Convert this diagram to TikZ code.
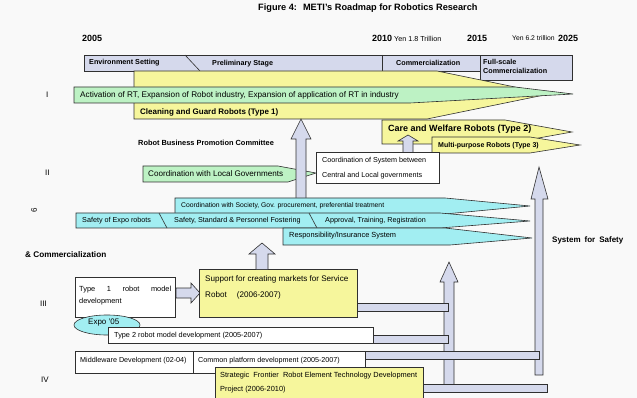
\documentclass[tikz,border=0pt]{standalone}
\usepackage{fontspec}
\setmainfont{Liberation Sans}
\definecolor{yel}{HTML}{F6F69C}
\definecolor{grn}{HTML}{BDF2C4}
\definecolor{cyn}{HTML}{A2EEF2}
\definecolor{lav}{HTML}{D5D9EC}
\definecolor{bgc}{HTML}{F9F9F9}
\definecolor{edge}{HTML}{303030}
\begin{document}
\begin{tikzpicture}[x=1pt,y=-1pt,
  txt/.style={anchor=west, inner sep=0pt, text=black, font=\fontsize{#1}{#1}\selectfont},
  btxt/.style={anchor=west, inner sep=0pt, text=black, font=\fontsize{#1}{#1}\selectfont\bfseries},
  sh/.style={draw=edge, line width=0.6pt, line join=miter}]
\useasboundingbox (0,0) rectangle (637,398);
\fill[bgc] (0,0) rectangle (637,398);

% title and years
\node[btxt=9.2] (title) at (258,8) {Figure 4:\hspace{6pt}METI's Roadmap for Robotics Research};
\node[btxt=9] (y2005) at (82,38) {2005};
\node[btxt=9] (y2010) at (372,38) {2010};
\node[txt=7.2] (yen18) at (394,38.5) {Yen 1.8 Trillion};
\node[btxt=9] (y2015) at (467,38) {2015};
\node[txt=6.8] (yen62) at (512,38.5) {Yen 6.2 trillion};
\node[btxt=9] (y2025) at (558,38) {2025};

% stage bar
\draw[sh, fill=lav] (84,55) rectangle (480,71);
\draw[sh] (185,55) -- (200,71);
\draw[sh] (382,55) -- (382,71);
\draw[sh, fill=lav] (480,55) rectangle (572,80);
\node[btxt=7.2] (env) at (89,63) {Environment Setting};
\node[btxt=7.2] (pre) at (212,64) {Preliminary Stage};
\node[btxt=7.2] (com) at (396,63) {Commercialization};
\node[btxt=7.2, align=left] (full) at (483,66.5) {Full-scale\\[2pt]Commercialization};

% Type 1 yellow arrow and green activation arrow
\draw[sh, fill=yel] (134,71) -- (437,71) -- (549,94) -- (427,119) -- (134,119) -- cycle;
\draw[sh, fill=grn] (74,87) -- (515,87) -- (573,94) -- (410,103) -- (74,103) -- cycle;
\node[txt=8.2] (act) at (80,95) {Activation of RT, Expansion of Robot industry, Expansion of application of RT in industry};
\node[btxt=8] (clean) at (140,112) {Cleaning and Guard Robots (Type 1)};

% row labels
\node[txt=8] (lI) at (46,95) {I};
\node[txt=8] (lII) at (45,173) {II};
\node[txt=8, rotate=90] (l6) at (34,213) {6};
\node[txt=8] (lIII) at (40,304) {III};
\node[txt=8] (lIV) at (41,380) {IV};
\node[btxt=8.2] (andcom) at (25,255) {\& Commercialization};
\node[btxt=7.4] (rbpc) at (138,143) {Robot Business Promotion Committee};

% care / multi-purpose
\draw[sh, fill=yel] (382,120) -- (505,120) -- (572,132) -- (505,144) -- (382,144) -- cycle;
\node[btxt=9] (care) at (388,129) {Care and Welfare Robots (Type 2)};
\draw[sh, fill=yel] (432,137) -- (530,137) -- (580,145) -- (530,153) -- (432,153) -- cycle;
\node[btxt=7] (multi) at (438,145.5) {Multi-purpose Robots (Type 3)};

% local governments
\draw[sh, fill=grn] (143,166) -- (278,166) -- (316,173) -- (288,182) -- (143,182) -- cycle;
\node[txt=8.1] (local) at (148,174) {Coordination with Local Governments};
\draw[sh, fill=white] (316,152) rectangle (439,183);
\node[txt=7.2] (csys1) at (322,161) {Coordination of System between};
\node[txt=7.2] (csys2) at (322,176) {Central and Local governments};
\draw[sh, fill=lav] (403,152) -- (403,141) -- (398,141) -- (408,135) -- (418,141) -- (413,141) -- (413,152);

% big vertical arrow
\draw[sh, fill=lav] (296,198) -- (296,139) -- (291,139) -- (301,119) -- (311,139) -- (306,139) -- (306,198);

% cyan arrows
\draw[sh, fill=cyn] (175,198) -- (445,198) -- (530,206) -- (445,214) -- (175,214) -- cycle;
\node[txt=6.8] (soc) at (181,206) {Coordination with Society, Gov. procurement, preferential treatment};
\draw[sh, fill=cyn] (76,213) -- (440,213) -- (530,221) -- (440,228) -- (76,228) -- cycle;
\draw[sh] (159,213) -- (167,228);
\draw[sh] (309,213) -- (317,228);
\node[txt=7.2] (expo) at (82,221) {Safety of Expo robots};
\node[txt=7.2] (ssp) at (174,221) {Safety, Standard \& Personnel Fostering};
\node[txt=7.2] (atr) at (325,221) {Approval, Training, Registration};
\draw[sh, fill=cyn] (283,228) -- (445,228) -- (532,238) -- (450,245) -- (283,245) -- cycle;
\node[txt=7.4] (resp) at (289,236) {Responsibility/Insurance System};

% tall arrow and middle arrow
\draw[sh, fill=lav] (535,375) -- (535,199) -- (531,199) -- (539,167) -- (548,199) -- (543,199) -- (543,375) -- cycle;
\node[btxt=8] (safety) at (552,240) {System\hspace{4pt}for\hspace{4pt}Safety};
\draw[sh, fill=lav] (444,386) -- (444,282) -- (440,282) -- (449,262) -- (458,282) -- (454,282) -- (454,386);

% III boxes
\draw[sh, fill=white] (75,277) rectangle (175,317);
\node[txt=7.4, text width=92pt, align=justify] (t1) at (79,295.5) {Type\hfill 1\hfill robot\hfill model\\[5pt]development};
\draw[sh, fill=cyn] (107,325) ellipse (33pt and 10pt);
\node[txt=8] (expo05) at (88,323) {Expo '05};
\draw[sh, fill=white] (108,327) rectangle (373,343);
\node[txt=7.3] (t2) at (114,336) {Type 2 robot model development (2005-2007)};
\draw[sh, fill=lav] (176,288) -- (191,288) -- (191,283) -- (200,293) -- (191,303) -- (191,298) -- (176,298) -- cycle;
\draw[sh, fill=yel] (199,269) rectangle (357,317);
\node[txt=8.1] (sup1) at (205,279) {Support for creating markets for Service};
\node[txt=8.1] (sup2) at (205,295) {Robot\hspace{10pt}(2006-2007)};
\draw[sh, fill=lav] (256,269) -- (256,254) -- (249,254) -- (262,243) -- (275,254) -- (268,254) -- (268,269);

% IV boxes
\draw[sh, fill=white] (75,351) rectangle (365,373);
\draw[sh] (193,351) -- (193,373);
\node[txt=7.2] (mw) at (80,361) {Middleware Development (02-04)};
\node[txt=7.2] (cp) at (198,361) {Common platform development (2005-2007)};
\draw[sh, fill=yel] (215,367) rectangle (423,401);
\node[txt=7.4] (sf1) at (220,376) {Strategic\hspace{2pt} Frontier\hspace{2pt} Robot Element Technology Development};
\node[txt=7.4] (sf2) at (220,390) {Project (2006-2010)};

% horizontal bars
\draw[sh, fill=lav] (357,303) rectangle (448,311);
\draw[sh, fill=lav] (373,335) rectangle (448,343);
\draw[sh, fill=lav] (365,351) rectangle (539,359);
\draw[sh, fill=lav] (423,384) rectangle (547,392);
\end{tikzpicture}
\end{document}
